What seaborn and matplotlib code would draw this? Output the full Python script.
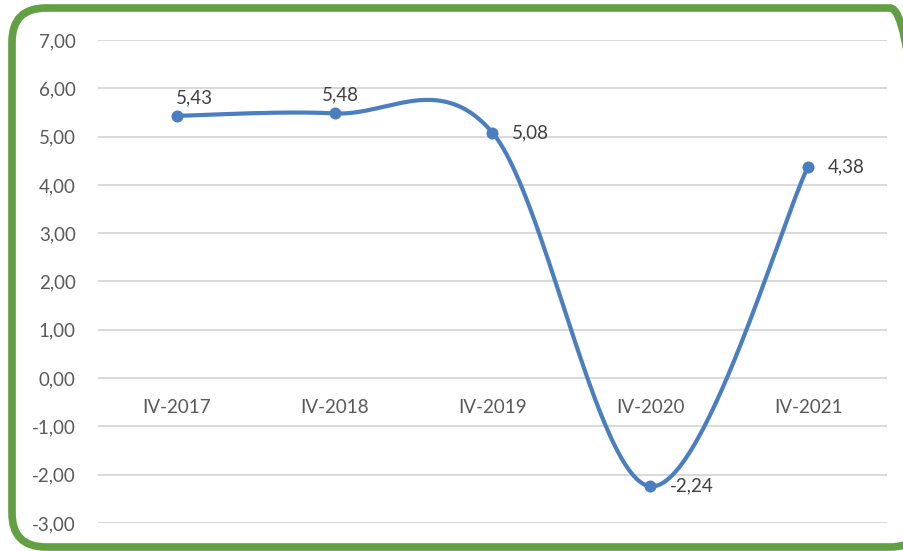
import numpy as np
import matplotlib
matplotlib.use("Agg")
import matplotlib.pyplot as plt
import seaborn as sns
from matplotlib.patches import FancyBboxPatch
from matplotlib.transforms import IdentityTransform

# data
periods = ["IV-2017", "IV-2018", "IV-2019", "IV-2020", "IV-2021"]
values = [5.43, 5.48, 5.08, -2.24, 4.38]
y_ticks = [-3, -2, -1, 0, 1, 2, 3, 4, 5, 6, 7]

# label offsets in points (dx, dy, ha)
label_pos = [(-1, 13, "left"), (-9, 13, "left"), (14, 0, "left"),
             (14, 0, "left"), (14, 0, "left")]

LINE = "#4a7ebf"
GRID = "#d9d9d9"
TICK = "#595959"
LABEL = "#404040"


def fmt(v):
    return f"{v:.2f}".replace(".", ",")


def smooth(xs, ys, n=60):
    # Excel-style smoothed line (Catmull-Rom through the points)
    pts = np.column_stack([xs, ys]).astype(float)
    P = np.vstack([pts[0], pts, pts[-1]])
    segs = []
    t = np.linspace(0, 1, n)[:, None]
    for i in range(len(pts) - 1):
        p0, p1, p2, p3 = P[i], P[i + 1], P[i + 2], P[i + 3]
        c1 = p1 + (p2 - p0) / 6
        c2 = p2 - (p3 - p1) / 6
        segs.append((1 - t) ** 3 * p1 + 3 * (1 - t) ** 2 * t * c1
                    + 3 * (1 - t) * t ** 2 * c2 + t ** 3 * p2)
    return np.vstack(segs)


def main():
    sns.set_theme(style="white")
    plt.rcParams["font.family"] = ["Lato", "DejaVu Sans"]

    W, H = 904, 551
    fig = plt.figure(figsize=(W / 100, H / 100), dpi=100)
    ax = fig.add_axes([98 / W, (H - 523) / H, (887 - 98) / W, (523 - 40) / H])

    x = np.arange(len(periods))
    curve = smooth(x, values)
    sns.lineplot(x=curve[:, 0], y=curve[:, 1], sort=False, color=LINE,
                 linewidth=3.0, ax=ax, zorder=3)
    sns.scatterplot(x=x, y=values, color=LINE, s=75, edgecolor=LINE,
                    linewidth=0, ax=ax, zorder=4)

    for xi, v, (dx, dy, ha) in zip(x, values, label_pos):
        ax.annotate(fmt(v), (xi, v), xytext=(dx, dy), textcoords="offset points",
                    ha=ha, va="center", fontsize=13.5, color=LABEL)

    ax.set_xlim(-0.5, len(periods) - 0.5)
    ax.set_ylim(min(y_ticks), max(y_ticks))
    ax.set_yticks(y_ticks)
    ax.set_yticklabels([fmt(v) for v in y_ticks])
    ax.set_xticks(x)
    ax.set_xticklabels(periods)

    ax.yaxis.grid(True, color=GRID, linewidth=1.4)
    ax.xaxis.grid(False)
    ax.set_axisbelow(True)
    for side in ["top", "right", "left"]:
        ax.spines[side].set_visible(False)
    ax.spines["bottom"].set_position(("data", 0))
    ax.spines["bottom"].set_visible(False)

    ax.tick_params(axis="y", length=0, pad=16, labelsize=13.5, labelcolor=TICK)
    ax.tick_params(axis="x", length=0, pad=15, labelsize=13.5, labelcolor=TICK)
    ax.set_xlabel("")
    ax.set_ylabel("")

    # rounded green frame (right edge runs past the image)
    frame = FancyBboxPatch((12, 4), 912, 539, boxstyle="round,pad=0,rounding_size=34",
                           transform=IdentityTransform(), fill=False,
                           edgecolor="#62a043", linewidth=5.5, zorder=10)
    fig.patches.append(frame)

    fig.savefig("out.png", dpi=100)


if __name__ == "__main__":
    main()
